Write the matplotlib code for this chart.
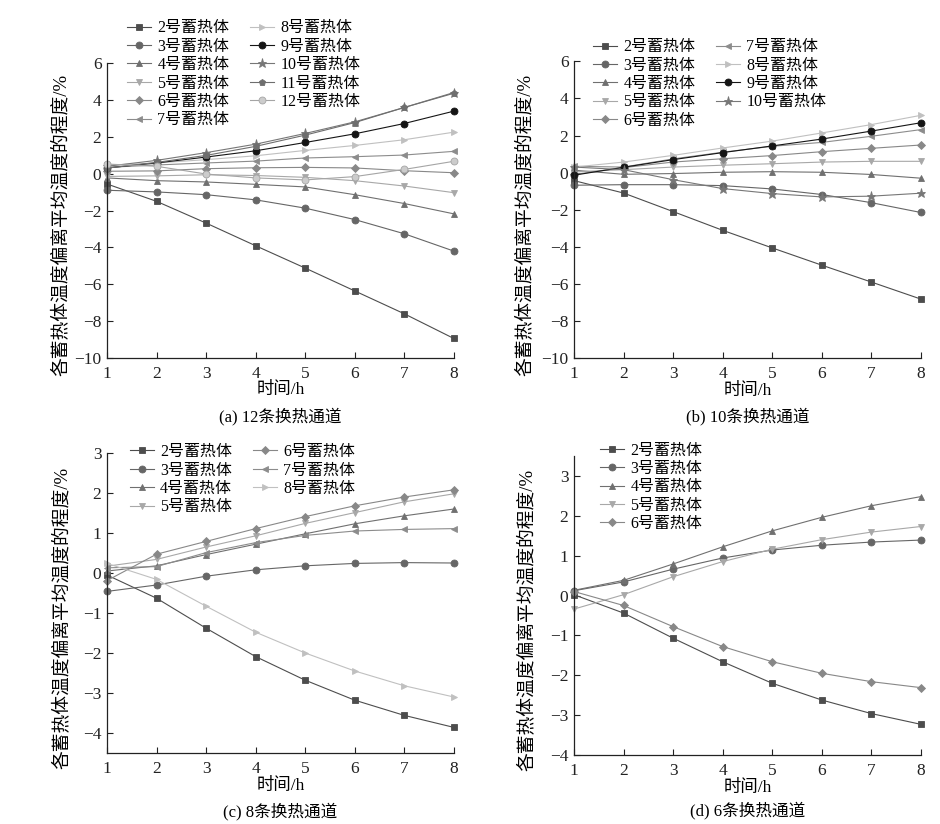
import numpy as np
import matplotlib
matplotlib.use('Agg')
import matplotlib.pyplot as plt

plt.rcParams['font.family'] = ['Liberation Serif', 'Noto Sans CJK SC']
plt.rcParams['axes.unicode_minus'] = True

# ---------------- data ----------------
hours = [1, 2, 3, 4, 5, 6, 7, 8]

# (a) 12 channels
a_ids = [2, 3, 4, 5, 6, 7, 8, 9, 10, 11, 12]
a_2 = [-0.56, -1.50, -2.68, -3.91, -5.12, -6.36, -7.60, -8.94]
a_3 = [-0.90, -0.99, -1.14, -1.42, -1.87, -2.49, -3.26, -4.20]
a_4 = [-0.23, -0.38, -0.45, -0.58, -0.72, -1.14, -1.62, -2.18]
a_5 = [-0.15, -0.12, -0.06, -0.10, -0.20, -0.38, -0.67, -1.03]
a_6 = [0.13, 0.15, 0.27, 0.32, 0.34, 0.31, 0.16, 0.05]
a_7 = [0.34, 0.47, 0.58, 0.68, 0.85, 0.92, 1.01, 1.21]
a_8 = [0.45, 0.58, 0.76, 0.97, 1.26, 1.53, 1.84, 2.25]
a_9 = [0.31, 0.58, 0.90, 1.24, 1.69, 2.16, 2.72, 3.39]
a_10 = [0.40, 0.72, 1.14, 1.60, 2.18, 2.81, 3.59, 4.40]
a_11 = [0.30, 0.61, 0.99, 1.48, 2.09, 2.77, 3.59, 4.36]
a_12 = [0.52, 0.40, -0.02, -0.23, -0.34, -0.16, 0.23, 0.67]

# (b) 10 channels
b_ids = [2, 3, 4, 5, 6, 7, 8, 9, 10]
b_2 = [-0.43, -1.10, -2.10, -3.11, -4.06, -4.99, -5.90, -6.82]
b_3 = [-0.68, -0.65, -0.65, -0.70, -0.88, -1.18, -1.62, -2.15]
b_4 = [0.13, -0.09, -0.05, 0.02, 0.05, 0.02, -0.10, -0.30]
b_5 = [0.04, 0.16, 0.30, 0.40, 0.48, 0.57, 0.61, 0.61]
b_6 = [-0.10, 0.27, 0.57, 0.75, 0.92, 1.13, 1.31, 1.49]
b_7 = [0.34, 0.30, 0.74, 1.10, 1.42, 1.63, 1.96, 2.32]
b_8 = [0.30, 0.57, 0.93, 1.33, 1.70, 2.14, 2.59, 3.09]
b_9 = [-0.14, 0.29, 0.70, 1.08, 1.44, 1.81, 2.24, 2.69]
b_10 = [0.30, 0.16, -0.38, -0.86, -1.13, -1.31, -1.27, -1.11]

# (c) 8 channels
c_ids = [2, 3, 4, 5, 6, 7, 8]
c_2 = [-0.05, -0.63, -1.38, -2.09, -2.68, -3.18, -3.56, -3.86]
c_3 = [-0.46, -0.30, -0.08, 0.08, 0.18, 0.24, 0.26, 0.25]
c_4 = [0.05, 0.18, 0.46, 0.72, 0.98, 1.23, 1.43, 1.60]
c_5 = [0.17, 0.34, 0.65, 0.93, 1.24, 1.51, 1.78, 1.98]
c_6 = [-0.19, 0.47, 0.79, 1.11, 1.41, 1.68, 1.90, 2.08]
c_7 = [0.13, 0.16, 0.51, 0.76, 0.94, 1.05, 1.09, 1.11]
c_8 = [0.24, -0.16, -0.83, -1.48, -2.00, -2.45, -2.82, -3.10]

# (d) 6 channels
d_ids = [2, 3, 4, 5, 6]
d_2 = [0.02, -0.44, -1.07, -1.66, -2.20, -2.62, -2.96, -3.23]
d_3 = [0.12, 0.34, 0.66, 0.94, 1.14, 1.26, 1.34, 1.39]
d_4 = [0.13, 0.38, 0.79, 1.22, 1.62, 1.96, 2.25, 2.48]
d_5 = [-0.34, 0.02, 0.47, 0.85, 1.16, 1.40, 1.59, 1.73]
d_6 = [0.10, -0.25, -0.78, -1.28, -1.66, -1.95, -2.16, -2.31]

# ---------------- styles ----------------
styles = {
    2: dict(marker='s', color='#4d4d4d'),
    3: dict(marker='o', color='#666666'),
    4: dict(marker='^', color='#707070'),
    5: dict(marker='v', color='#a8a8a8'),
    6: dict(marker='D', color='#888888', markersize=4.5),
    7: dict(marker='<', color='#8c8c8c'),
    8: dict(marker='>', color='#c0c0c0'),
    9: dict(marker='o', color='#151515'),
    10: dict(marker='*', color='#777777', markersize=6.5),
    11: dict(marker='p', color='#6e6e6e'),
    12: dict(marker='o', color='#a5a5a5', markerfacecolor='#cccccc'),
}

panels = [
    dict(ids=a_ids, series=[a_2, a_3, a_4, a_5, a_6, a_7, a_8, a_9, a_10, a_11, a_12],
         rect=[0.1138, 0.5655, 0.369, 0.358], ylim=(-10, 6), yticks=np.arange(-10, 7, 2),
         ncol=2, leg=(0.058, 1.145), ylab_x=-0.133, cap='(a) 12条换热通道', cap_y=0.495),
    dict(ids=b_ids, series=[b_2, b_3, b_4, b_5, b_6, b_7, b_8, b_9, b_10],
         rect=[0.6106, 0.5655, 0.369, 0.360], ylim=(-10, 6), yticks=np.arange(-10, 7, 2),
         ncol=2, leg=(0.055, 1.075), ylab_x=-0.141, cap='(b) 10条换热通道', cap_y=0.495),
    dict(ids=c_ids, series=[c_2, c_3, c_4, c_5, c_6, c_7, c_8],
         rect=[0.1138, 0.0862, 0.369, 0.364], ylim=(-4.5, 3), yticks=np.arange(-4, 4, 1),
         ncol=2, leg=(0.066, 1.03), ylab_x=-0.13, cap='(c) 8条换热通道', cap_y=0.015),
    dict(ids=d_ids, series=[d_2, d_3, d_4, d_5, d_6],
         rect=[0.6106, 0.0837, 0.369, 0.363], ylim=(-4, 3.5), yticks=np.arange(-4, 4, 1),
         ncol=1, leg=(0.075, 1.045), ylab_x=-0.135, cap='(d) 6条换热通道', cap_y=0.017),
]

fig = plt.figure(figsize=(9.4, 8.24), dpi=100)

for p in panels:
    ax = fig.add_axes(p['rect'])
    for sid, vals in zip(p['ids'], p['series']):
        st = dict(markersize=5, linewidth=0.8, markeredgewidth=0.6)
        st.update(styles[sid])
        if 'markeredgecolor' not in st:
            st['markeredgecolor'] = st['color']
        ax.plot(hours, vals, label=f'{sid}号蓄热体', clip_on=False, **st)

    ax.set_xlim(1, 8)
    ax.set_ylim(*p['ylim'])
    ax.set_xticks(hours)
    ax.set_yticks(p['yticks'])
    for s in ['top', 'right']:
        ax.spines[s].set_visible(False)
    for s in ['left', 'bottom']:
        ax.spines[s].set_linewidth(0.9)
        ax.spines[s].set_color('#222222')
    ax.tick_params(direction='in', length=4, width=0.8, labelsize=12.5, colors='#222222')
    ax.tick_params(axis='x', pad=6)
    ax.tick_params(axis='y', pad=4)

    ax.set_xlabel('时间/h', fontsize=12.5, va='center')
    ax.xaxis.set_label_coords(0.5, -0.11)
    ax.set_ylabel('各蓄热体温度偏离平均温度的程度/%', fontsize=13.5, va='center')
    ax.yaxis.set_label_coords(p['ylab_x'], 0.45)

    ax.legend(loc='upper left', bbox_to_anchor=p['leg'], ncol=p['ncol'], frameon=False,
              fontsize=11.5, borderpad=0, borderaxespad=0, handlelength=1.5,
              handletextpad=0.4, labelspacing=0.15, columnspacing=1.3)

    x0, w = p['rect'][0], p['rect'][2]
    fig.text(x0 + w / 2, p['cap_y'], p['cap'], ha='center', va='center', fontsize=12)

fig.savefig('out.png', dpi=100)
